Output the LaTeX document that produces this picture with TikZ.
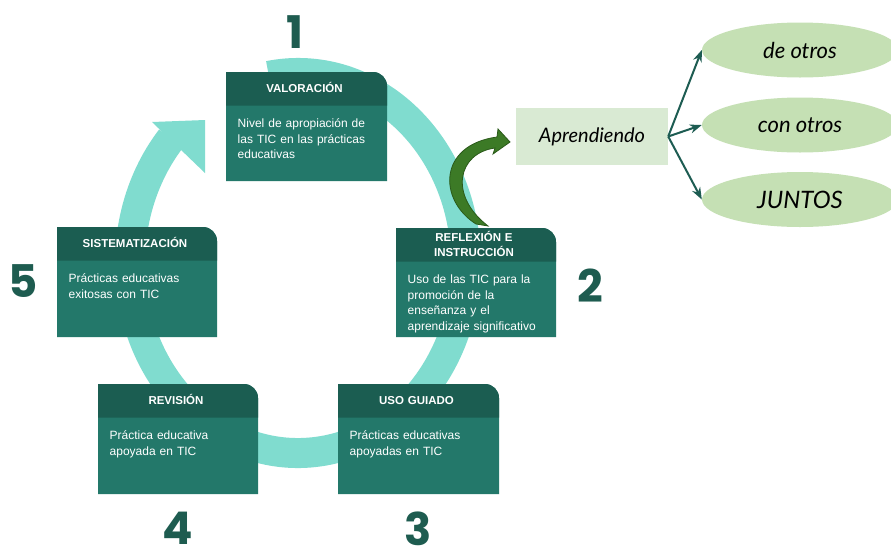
\documentclass[tikz,border=0pt]{standalone}
\usepackage{fontspec}
\setmainfont{Liberation Sans}
\newfontfamily\numfont{Poppins}
\newfontfamily\handfont{Lato}
\usetikzlibrary{shapes.geometric,arrows.meta}
\definecolor{headc}{HTML}{1B5D51}
\definecolor{bodyc}{HTML}{23786A}
\definecolor{ringc}{HTML}{80DCCF}
\definecolor{numc}{HTML}{1E5C50}
\definecolor{aprc}{HTML}{D9EAD3}
\definecolor{ellc}{HTML}{C5E0B4}
\definecolor{garrow}{HTML}{3C7A26}
\definecolor{garrowd}{HTML}{2A5A19}
\definecolor{arrc}{HTML}{1D5C52}

% #1 name, #2 left, #3 top, #4 right, #5 bottom, #6 header baseline offset, #7 header, #8 body
\newcommand\stepcard[8]{%
  \fill[bodyc] (#2,#5) -- (#2,#3) -- ({#4-14},#3) arc[start angle=-90,end angle=0,radius=14] -- (#4,#5) -- cycle;
  \fill[headc] (#2,{#3+33.5}) -- (#2,#3) -- ({#4-14},#3) arc[start angle=-90,end angle=0,radius=14] -- (#4,{#3+33.5}) -- cycle;
  \node[headtext, anchor=base] (#1h) at ({(#2+#4)/2-2},{#3+#6}) {#7};
  \node[bodytext, anchor=base west] (#1b) at ({#2+11.5},{#3+55.5}) {#8};
}

\begin{document}
\begin{tikzpicture}[x=1pt, y=-1pt,
  headtext/.style={font=\fontsize{11.5}{15}\selectfont\bfseries, text=white, align=center, text width=150pt, inner sep=0pt},
  bodytext/.style={font=\fontsize{12}{15.5}\selectfont, text=white, align=left, text width=145pt, inner sep=0pt},
  num/.style={font=\numfont\bfseries\fontsize{45}{45}\selectfont, text=numc, inner sep=0pt},
  ell/.style={ellipse, fill=ellc, minimum width=196pt, minimum height=55pt, inner sep=0pt, font=\handfont\itshape\fontsize{22}{24}\selectfont},
  aprbox/.style={rectangle, fill=aprc, minimum width=152pt, minimum height=57pt, inner sep=0pt, font=\handfont\itshape\fontsize{20}{22}\selectfont},
  conn/.style={draw=arrc, line width=2pt, -{Stealth[length=12pt,width=9pt]}}
]
\useasboundingbox (0,0) rectangle (891,555);
\clip (0,0) rectangle (891,555);
\fill[white] (0,0) rectangle (891,555);

% cycle ring
\draw[ringc, line width=30pt] ({298+168*cos(-100)},{263+190*sin(-100)}) arc[start angle=-100, end angle=221, x radius=168, y radius=190];
\fill[ringc] (152,122) -- (205,120) -- (205,173) -- cycle;

% step cards
\stepcard{val}{226}{72}{387}{181}{20.5}{VALORACIÓN}{Nivel de apropiación de\\las TIC en las prácticas\\educativas}
\stepcard{ref}{396}{228}{556}{337}{13}{REFLEXIÓN E\\INSTRUCCIÓN}{Uso de las TIC para la\\promoción de la\\enseñanza y el\\aprendizaje significativo}
\stepcard{uso}{338}{384}{499}{494}{20.5}{USO GUIADO}{Prácticas educativas\\apoyadas en TIC}
\stepcard{rev}{98}{384}{258}{494}{20.5}{REVISIÓN}{Práctica educativa\\apoyada en TIC}
\stepcard{sis}{57}{227}{217}{337}{20.5}{SISTEMATIZACIÓN}{Prácticas educativas\\exitosas con TIC}

% numbers
\node[num] (n1) at (295,32) {1};
\node[num] (n2) at (590,286) {2};
\node[num] (n3) at (418,529) {3};
\node[num] (n4) at (178,528) {4};
\node[num] (n5) at (23.5,281.5) {5};

% green curved arrow
\fill[garrow, draw=garrowd, line width=0.8pt] (476,224) .. controls (438,200) and (438,145) .. (497,137) -- (498,129) -- (510,142) -- (493,154) -- (495,148) .. controls (458,153) and (448,195) .. (488,226) -- cycle;

% learning
\node[aprbox] (apr) at (592,136.5) {Aprendiendo};
\node[ell] (e1) at (800,50) {de otros};
\node[ell] (e2) at (800,125) {con otros};
\node[ell, font=\handfont\itshape\fontsize{24}{26}\selectfont] (e3) at (800,199.5) {JUNTOS};
\draw[conn] (apr.east) -- (e1.west);
\draw[conn] (apr.east) -- (e2.west);
\draw[conn] (apr.east) -- (e3.west);
\end{tikzpicture}
\end{document}
